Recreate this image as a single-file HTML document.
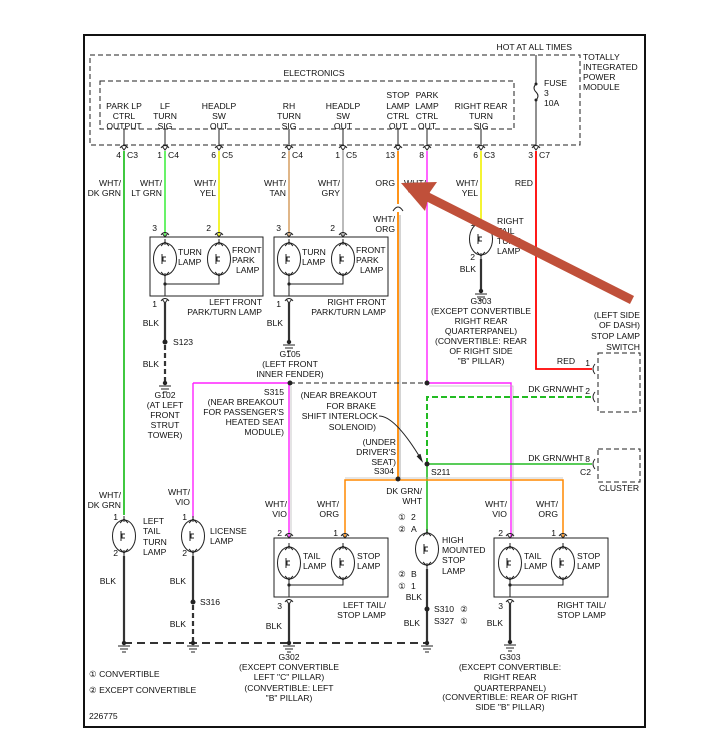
<!DOCTYPE html>
<html><head><meta charset="utf-8"><style>
html,body{margin:0;padding:0;background:#fff}
svg{display:block}
text{font-family:"Liberation Sans",sans-serif;font-size:8.6px;fill:#111}
.e{text-anchor:end}.m{text-anchor:middle}
.k{stroke:#333;stroke-width:2.2;fill:none}
.t{stroke:#222;stroke-width:1;fill:none}
.d{stroke:#222;stroke-width:1;fill:none;stroke-dasharray:5,3}
</style></head><body>
<svg width="722" height="735" viewBox="0 0 722 735" xmlns="http://www.w3.org/2000/svg">
<defs>
<g id="bulb"><ellipse cx="0" cy="0" rx="11.5" ry="16" fill="#fff" stroke="#222" stroke-width="1"/>
<path d="M0,-20 V-14 M0,14 V20 M-4,-13 L0,-17 L4,-13 M-4,13 L0,17 L4,13 M-3,-5 V5 M1,-2 h-3 v4 h3" stroke="#222" stroke-width="1" fill="none"/></g>
<g id="pin"><path d="M-4,3 Q0,-2 4,3 M-3,1 L0,5 L3,1" stroke="#222" stroke-width="1" fill="none"/></g>
<g id="gnd"><circle cx="0" cy="0" r="2.2" fill="#222"/><path d="M-6,3 h12 M-4,6 h8 M-2,9 h4" stroke="#222" stroke-width="1"/></g>
</defs>
<rect x="84" y="35" width="561" height="692" fill="none" stroke="#111" stroke-width="2"/>
<rect x="90" y="55" width="490" height="90" class="d"/>
<rect x="100" y="81" width="414" height="48" class="d"/>
<text x="572" y="50" class="e">HOT AT ALL TIMES</text>
<text x="583" y="60">TOTALLY</text><text x="583" y="70">INTEGRATED</text><text x="583" y="80">POWER</text><text x="583" y="90">MODULE</text>
<text x="314" y="76" class="m">ELECTRONICS</text>
<text x="124" y="109" class="m">PARK LP</text><text x="124" y="119" class="m">CTRL</text><text x="124" y="129" class="m">OUTPUT</text>
<text x="165" y="109" class="m">LF</text><text x="165" y="119" class="m">TURN</text><text x="165" y="129" class="m">SIG</text>
<text x="219" y="109" class="m">HEADLP</text><text x="219" y="119" class="m">SW</text><text x="219" y="129" class="m">OUT</text>
<text x="289" y="109" class="m">RH</text><text x="289" y="119" class="m">TURN</text><text x="289" y="129" class="m">SIG</text>
<text x="343" y="109" class="m">HEADLP</text><text x="343" y="119" class="m">SW</text><text x="343" y="129" class="m">OUT</text>
<text x="398" y="98" class="m">STOP</text><text x="398" y="109" class="m">LAMP</text><text x="398" y="119" class="m">CTRL</text><text x="398" y="129" class="m">OUT</text>
<text x="427" y="98" class="m">PARK</text><text x="427" y="109" class="m">LAMP</text><text x="427" y="119" class="m">CTRL</text><text x="427" y="129" class="m">OUT</text>
<text x="481" y="109" class="m">RIGHT REAR</text><text x="481" y="119" class="m">TURN</text><text x="481" y="129" class="m">SIG</text>
<path d="M536,55 V84 M536,100 V145" class="t"/>
<path d="M536,84 q-4,4 0,8 q4,4 0,8" class="t"/>
<circle cx="536" cy="84" r="1.5" fill="#222"/><circle cx="536" cy="100" r="1.5" fill="#222"/>
<text x="544" y="86">FUSE</text><text x="544" y="96">3</text><text x="544" y="106">10A</text>
<path d="M124,129V145 M165,129V145 M219,129V145 M289,129V145 M343,129V145 M398,129V145 M427,129V145 M481,129V145" class="t"/>
<g><use href="#pin" x="124" y="145"/><use href="#pin" x="165" y="145"/><use href="#pin" x="219" y="145"/><use href="#pin" x="289" y="145"/><use href="#pin" x="343" y="145"/><use href="#pin" x="398" y="145"/><use href="#pin" x="427" y="145"/><use href="#pin" x="481" y="145"/><use href="#pin" x="536" y="145"/></g>
<text x="121" y="158" class="e">4</text><text x="127" y="158">C3</text>
<text x="162" y="158" class="e">1</text><text x="168" y="158">C4</text>
<text x="216" y="158" class="e">6</text><text x="222" y="158">C5</text>
<text x="286" y="158" class="e">2</text><text x="292" y="158">C4</text>
<text x="340" y="158" class="e">1</text><text x="346" y="158">C5</text>
<text x="395" y="158" class="e">13</text>
<text x="424" y="158" class="e">8</text>
<text x="478" y="158" class="e">6</text><text x="484" y="158">C3</text>
<text x="533" y="158" class="e">3</text><text x="539" y="158">C7</text>
<path d="M124,151V515" stroke="#11bb11" stroke-width="1.6"/>
<path d="M165,151V236" stroke="#44ee44" stroke-width="1.6"/>
<path d="M219,151V236" stroke="#f2f200" stroke-width="1.6"/>
<path d="M289,151V236" stroke="#d9a36a" stroke-width="1.6"/>
<path d="M343,151V236" stroke="#aaaaaa" stroke-width="1.6"/>
<path d="M400,215V478" stroke="#aaaaaa" stroke-width="1"/>
<path d="M398,151V204 M398,212V479" stroke="#ff8800" stroke-width="1.8"/>
<path d="M393,211 Q398,203 403,211" class="t"/>
<path d="M427,151V383 H511 V538 M193,383 H290 M193,383 V518 M289,383 V538" stroke="#ff22ff" stroke-width="1.4" fill="none"/>
<path d="M291,386 V538 M429,386 H513 V538" stroke="#bbb" stroke-width="0.8" fill="none"/>
<path d="M481,151V223" stroke="#f2f200" stroke-width="1.6"/>
<path d="M536,151V369 H592" stroke="#ff0000" stroke-width="1.8" fill="none"/>
<path d="M427,464 H592 M427,464 V534" stroke="#22bb22" stroke-width="1.6" fill="none"/>
<path d="M427,464 V397 H592" stroke="#22bb22" stroke-width="2" stroke-dasharray="6,3" fill="none"/>
<path d="M345,478 H563" stroke="#bbb" stroke-width="0.8"/>
<path d="M345,538 V480 H563 V538" stroke="#ff8800" stroke-width="1.5" fill="none"/>
<text x="121" y="186" class="e">WHT/</text><text x="121" y="196" class="e">DK GRN</text>
<text x="162" y="186" class="e">WHT/</text><text x="162" y="196" class="e">LT GRN</text>
<text x="216" y="186" class="e">WHT/</text><text x="216" y="196" class="e">YEL</text>
<text x="286" y="186" class="e">WHT/</text><text x="286" y="196" class="e">TAN</text>
<text x="340" y="186" class="e">WHT/</text><text x="340" y="196" class="e">GRY</text>
<text x="395" y="186" class="e">ORG</text><text x="404" y="186">WHT/</text>
<text x="395" y="222" class="e">WHT/</text><text x="395" y="232" class="e">ORG</text>
<text x="478" y="186" class="e">WHT/</text><text x="478" y="196" class="e">YEL</text>
<text x="533" y="186" class="e">RED</text>
<rect x="150" y="237" width="113" height="59" class="t"/>
<rect x="274" y="237" width="114" height="59" class="t"/>
<use href="#pin" x="165" y="232"/><use href="#pin" x="219" y="232"/><use href="#pin" x="289" y="232"/><use href="#pin" x="343" y="232"/>
<text x="157" y="231" class="e">3</text><text x="211" y="231" class="e">2</text><text x="281" y="231" class="e">3</text><text x="335" y="231" class="e">2</text>
<use href="#bulb" x="165" y="259"/><use href="#bulb" x="219" y="259"/><use href="#bulb" x="289" y="259"/><use href="#bulb" x="343" y="259"/>
<path d="M165,279V296 M219,279V284 H165 M289,279V296 M343,279V284 H289" class="t"/>
<circle cx="165" cy="284" r="1.6" fill="#222"/><circle cx="289" cy="284" r="1.6" fill="#222"/>
<text x="178" y="255">TURN</text><text x="178" y="265">LAMP</text>
<text x="232" y="253">FRONT</text><text x="232" y="263">PARK</text><text x="236" y="273">LAMP</text>
<text x="302" y="255">TURN</text><text x="302" y="265">LAMP</text>
<text x="356" y="253">FRONT</text><text x="356" y="263">PARK</text><text x="360" y="273">LAMP</text>
<text x="262" y="305" class="e">LEFT FRONT</text><text x="262" y="315" class="e">PARK/TURN LAMP</text>
<text x="386" y="305" class="e">RIGHT FRONT</text><text x="386" y="315" class="e">PARK/TURN LAMP</text>
<use href="#pin" x="165" y="298"/><use href="#pin" x="289" y="298"/>
<text x="157" y="307" class="e">1</text><text x="281" y="307" class="e">1</text>
<path d="M165,302V342 M289,302V341" class="k"/>
<text x="159" y="326" class="e">BLK</text><text x="283" y="326" class="e">BLK</text>
<circle cx="165" cy="342" r="2.5" fill="#222"/><text x="173" y="345">S123</text>
<path d="M165,345V381" class="k" stroke-dasharray="5,3"/>
<text x="159" y="367" class="e">BLK</text>
<use href="#gnd" x="165" y="383"/><use href="#gnd" x="289" y="342"/>
<text x="165" y="398" class="m">G102</text><text x="165" y="408" class="m">(AT LEFT</text><text x="165" y="418" class="m">FRONT</text><text x="165" y="428" class="m">STRUT</text><text x="165" y="438" class="m">TOWER)</text>
<text x="290" y="357" class="m">G105</text><text x="290" y="367" class="m">(LEFT FRONT</text><text x="290" y="377" class="m">INNER FENDER)</text>
<use href="#bulb" x="481" y="239"/>
<text x="475" y="226" class="e">1</text><text x="475" y="260" class="e">2</text>
<text x="497" y="224">RIGHT</text><text x="497" y="234">TAIL</text><text x="497" y="244">TURN</text><text x="497" y="254">LAMP</text>
<path d="M481,259V290" class="k"/><text x="476" y="272" class="e">BLK</text>
<use href="#gnd" x="481" y="291"/>
<text x="481" y="304" class="m">G303</text><text x="481" y="314" class="m">(EXCEPT CONVERTIBLE</text><text x="481" y="324" class="m">RIGHT REAR</text><text x="481" y="334" class="m">QUARTERPANEL)</text><text x="481" y="344" class="m">(CONVERTIBLE: REAR</text><text x="481" y="354" class="m">OF RIGHT SIDE</text><text x="481" y="364" class="m">"B" PILLAR)</text>
<rect x="598" y="353" width="42" height="59" class="d"/>
<rect x="598" y="449" width="42" height="33" class="d"/>
<path d="M595,364 q-4,5 0,10 M595,392 q-4,5 0,10 M595,459 q-4,5 0,10" class="t"/>
<text x="640" y="318" class="e">(LEFT SIDE</text><text x="640" y="328" class="e">OF DASH)</text><text x="640" y="339" class="e">STOP LAMP</text><text x="640" y="350" class="e">SWITCH</text>
<text x="566" y="364" class="m">RED</text><text x="590" y="366" class="e">1</text>
<text x="556" y="392" class="m">DK GRN/WHT</text><text x="590" y="394" class="e">2</text>
<text x="556" y="461" class="m">DK GRN/WHT</text><text x="590" y="462" class="e">8</text><text x="591" y="475" class="e">C2</text>
<text x="619" y="491" class="m">CLUSTER</text>
<path d="M290,383 H427" class="t" stroke-dasharray="5,3" stroke-width="1.3"/>
<circle cx="290" cy="383" r="2.5" fill="#222"/><circle cx="427" cy="383" r="2.5" fill="#222"/>
<text x="284" y="395" class="e">S315</text><text x="284" y="405" class="e">(NEAR BREAKOUT</text><text x="284" y="415" class="e">FOR PASSENGER'S</text><text x="284" y="425" class="e">HEATED SEAT</text><text x="284" y="435" class="e">MODULE)</text>
<text x="377" y="398" class="e">(NEAR BREAKOUT</text><text x="376" y="409" class="e">FOR BRAKE</text><text x="378" y="419" class="e">SHIFT INTERLOCK</text><text x="376" y="430" class="e">SOLENOID)</text>
<path d="M379,416 Q395,416 421,459" class="t"/><path d="M417,456 L422,461 L420,454" fill="#222" stroke="#222" stroke-width="1"/>
<text x="396" y="445" class="e">(UNDER</text><text x="396" y="455" class="e">DRIVER'S</text><text x="396" y="465" class="e">SEAT)</text><text x="394" y="474" class="e">S304</text>
<circle cx="398" cy="479" r="2.5" fill="#222"/><circle cx="427" cy="464" r="2.5" fill="#222"/>
<text x="431" y="475">S211</text>
<use href="#bulb" x="124" y="536"/><use href="#bulb" x="193" y="536"/>
<text x="121" y="498" class="e">WHT/</text><text x="121" y="508" class="e">DK GRN</text>
<text x="190" y="495" class="e">WHT/</text><text x="190" y="505" class="e">VIO</text>
<text x="118" y="520" class="e">1</text><text x="118" y="556" class="e">2</text>
<text x="187" y="520" class="e">1</text><text x="187" y="556" class="e">2</text>
<text x="143" y="524">LEFT</text><text x="143" y="534">TAIL</text><text x="143" y="545">TURN</text><text x="143" y="555">LAMP</text>
<text x="210" y="534">LICENSE</text><text x="210" y="544">LAMP</text>
<path d="M124,556V643 M193,556V602" class="k"/>
<path d="M193,605V643" class="k" stroke-dasharray="5,3"/>
<circle cx="193" cy="602" r="2.5" fill="#222"/><text x="200" y="605">S316</text>
<text x="116" y="584" class="e">BLK</text><text x="186" y="584" class="e">BLK</text><text x="186" y="627" class="e">BLK</text>
<rect x="274" y="538" width="114" height="59" class="t"/>
<rect x="494" y="538" width="114" height="59" class="t"/>
<use href="#pin" x="289" y="533"/><use href="#pin" x="345" y="533"/><use href="#pin" x="510" y="533"/><use href="#pin" x="563" y="533"/>
<text x="282" y="536" class="e">2</text><text x="338" y="536" class="e">1</text><text x="503" y="536" class="e">2</text><text x="556" y="536" class="e">1</text>
<text x="287" y="507" class="e">WHT/</text><text x="287" y="517" class="e">VIO</text>
<text x="339" y="507" class="e">WHT/</text><text x="339" y="517" class="e">ORG</text>
<text x="507" y="507" class="e">WHT/</text><text x="507" y="517" class="e">VIO</text>
<text x="558" y="507" class="e">WHT/</text><text x="558" y="517" class="e">ORG</text>
<use href="#bulb" x="289" y="563"/><use href="#bulb" x="343" y="563"/><use href="#bulb" x="510" y="563"/><use href="#bulb" x="563" y="563"/>
<path d="M289,583V597 M343,583V585 H289 M510,583V597 M563,583V585 H510" class="t"/>
<circle cx="289" cy="585" r="1.6" fill="#222"/><circle cx="510" cy="585" r="1.6" fill="#222"/>
<text x="303" y="559">TAIL</text><text x="303" y="569">LAMP</text><text x="357" y="559">STOP</text><text x="357" y="569">LAMP</text>
<text x="524" y="559">TAIL</text><text x="524" y="569">LAMP</text><text x="577" y="559">STOP</text><text x="577" y="569">LAMP</text>
<text x="386" y="608" class="e">LEFT TAIL/</text><text x="386" y="618" class="e">STOP LAMP</text>
<text x="606" y="608" class="e">RIGHT TAIL/</text><text x="606" y="618" class="e">STOP LAMP</text>
<use href="#pin" x="289" y="599"/><use href="#pin" x="510" y="599"/>
<text x="282" y="609" class="e">3</text><text x="503" y="609" class="e">3</text>
<path d="M289,603V643 M510,603V641" class="k"/>
<text x="282" y="629" class="e">BLK</text><text x="503" y="626" class="e">BLK</text>
<use href="#bulb" x="427" y="549"/>
<text x="422" y="494" class="e">DK GRN/</text><text x="422" y="504" class="e">WHT</text>
<text x="402" y="520" class="m">①</text><text x="411" y="520">2</text>
<text x="402" y="532" class="m">②</text><text x="411" y="532">A</text>
<text x="442" y="543">HIGH</text><text x="442" y="553">MOUNTED</text><text x="442" y="563">STOP</text><text x="442" y="574">LAMP</text>
<text x="402" y="577" class="m">②</text><text x="411" y="577">B</text>
<text x="402" y="589" class="m">①</text><text x="411" y="589">1</text>
<text x="422" y="600" class="e">BLK</text>
<path d="M427,569V643" class="k"/>
<circle cx="427" cy="609" r="2.5" fill="#222"/>
<text x="434" y="612">S310</text><text x="464" y="612" class="m">②</text>
<text x="420" y="626" class="e">BLK</text><text x="434" y="624">S327</text><text x="464" y="624" class="m">①</text>
<path d="M124,643 H427" stroke="#333" stroke-width="2" stroke-dasharray="8,5" fill="none"/>
<use href="#gnd" x="124" y="643"/><use href="#gnd" x="193" y="643"/><use href="#gnd" x="289" y="643"/><use href="#gnd" x="427" y="643"/><use href="#gnd" x="510" y="642"/>
<text x="289" y="660" class="m">G302</text><text x="289" y="670" class="m">(EXCEPT CONVERTIBLE</text><text x="289" y="680" class="m">LEFT "C" PILLAR)</text><text x="289" y="691" class="m">(CONVERTIBLE: LEFT</text><text x="289" y="701" class="m">"B" PILLAR)</text>
<text x="510" y="660" class="m">G303</text><text x="510" y="670" class="m">(EXCEPT CONVERTIBLE:</text><text x="510" y="680" class="m">RIGHT REAR</text><text x="510" y="691" class="m">QUARTERPANEL)</text><text x="510" y="700" class="m">(CONVERTIBLE: REAR OF RIGHT</text><text x="510" y="710" class="m">SIDE "B" PILLAR)</text>
<text x="89" y="677">①  CONVERTIBLE</text><text x="89" y="693">②  EXCEPT CONVERTIBLE</text>
<text x="89" y="719">226775</text>
<path d="M632,300 L410,188" stroke="#c0503a" stroke-width="9" stroke-linecap="butt"/>
<path d="M401,183 L437,182 L430,192 L425,211 Z" fill="#c0503a"/>
</svg>
</body></html>
